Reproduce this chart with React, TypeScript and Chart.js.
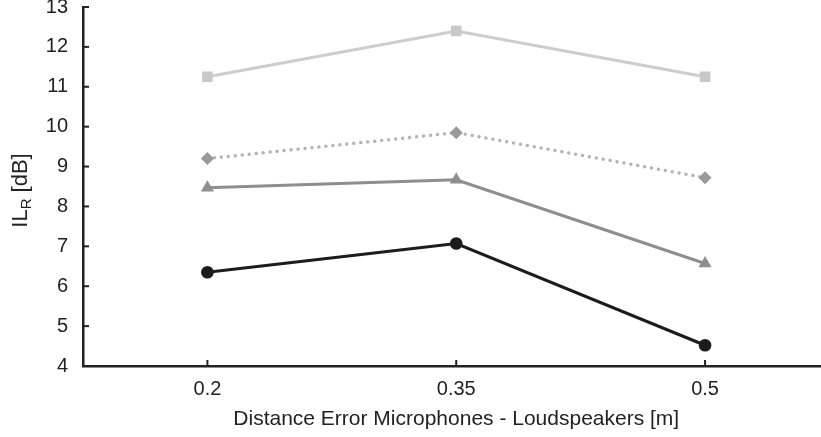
import { useEffect, useRef } from 'react';
import { Chart, registerables } from 'chart.js';

Chart.register(...registerables);

// ---- data ----
const xLabels = ['0.2', '0.35', '0.5'];
const seriesSquare = [11.25, 12.4, 11.25];
const seriesDiamond = [9.2, 9.85, 8.72];
const seriesTriangle = [8.47, 8.67, 6.57];
const seriesCircle = [6.35, 7.07, 4.52];
const yMin = 4;
const yMax = 13;
const xTitle = 'Distance Error Microphones - Loudspeakers [m]';
const yTitleMain = 'IL';
const yTitleSub = 'R';
const yTitleRest = ' [dB]';

const FONT = "'Liberation Sans', Arial, Helvetica, sans-serif";
const AXIS_COLOR = '#222222';
const TEXT_COLOR = '#222222';

const toPoints = (vals: number[]) => vals.map((y, i) => ({ x: i, y }));

const innerTicksAndTitles = {
  id: 'innerTicksAndTitles',
  afterDraw(chart: any) {
    const { ctx, chartArea, scales } = chart;
    ctx.save();
    ctx.strokeStyle = AXIS_COLOR;
    ctx.lineWidth = 2;
    const ys = scales.y;
    ys.ticks.forEach((_t: any, i: number) => {
      const py = ys.getPixelForTick(i);
      ctx.beginPath();
      ctx.moveTo(chartArea.left, py);
      ctx.lineTo(chartArea.left + 6, py);
      ctx.stroke();
    });
    const xs = scales.x;
    xs.ticks.forEach((_t: any, i: number) => {
      const px = xs.getPixelForTick(i);
      ctx.beginPath();
      ctx.moveTo(px, chartArea.bottom);
      ctx.lineTo(px, chartArea.bottom - 6);
      ctx.stroke();
    });

    // x-axis title, centred under the middle category
    ctx.fillStyle = TEXT_COLOR;
    ctx.font = `21px ${FONT}`;
    ctx.textAlign = 'center';
    ctx.textBaseline = 'middle';
    ctx.fillText(xTitle, xs.getPixelForValue(1), chartArea.bottom + 53);

    // rotated y-axis title with subscript
    const mainFont = `22px ${FONT}`;
    const subFont = `15px ${FONT}`;
    ctx.textAlign = 'left';
    ctx.font = mainFont;
    const w1 = ctx.measureText(yTitleMain).width;
    const w3 = ctx.measureText(yTitleRest).width;
    ctx.font = subFont;
    const w2 = ctx.measureText(yTitleSub).width;
    const total = w1 + w2 + w3;
    ctx.translate(21, (chartArea.top + chartArea.bottom) / 2 + 4);
    ctx.rotate(-Math.PI / 2);
    let x = -total / 2;
    ctx.font = mainFont;
    ctx.fillText(yTitleMain, x, 0);
    x += w1;
    ctx.font = subFont;
    ctx.fillText(yTitleSub, x, 6);
    x += w2;
    ctx.font = mainFont;
    ctx.fillText(yTitleRest, x, 0);
    ctx.restore();
  },
};

export default function App() {
  const ref = useRef<HTMLCanvasElement>(null);
  useEffect(() => {
    document.body.style.margin = '0';
    const chart = new Chart(ref.current as HTMLCanvasElement, {
      type: 'line',
      data: {
        datasets: [
          {
            data: toPoints(seriesSquare),
            borderColor: '#cdcdcd',
            backgroundColor: '#c8c8c8',
            borderWidth: 3,
            pointStyle: 'rect',
            pointRadius: 7.5,
            pointBackgroundColor: '#c8c8c8',
            pointBorderColor: '#c8c8c8',
            pointBorderWidth: 0,
          },
          {
            data: toPoints(seriesDiamond),
            borderColor: '#b4b4b4',
            backgroundColor: '#999999',
            borderWidth: 3.5,
            borderDash: [0.01, 7],
            borderCapStyle: 'round',
            pointStyle: 'rectRot',
            pointRadius: 6.5,
            pointBackgroundColor: '#999999',
            pointBorderColor: '#999999',
            pointBorderWidth: 0,
          },
          {
            data: toPoints(seriesTriangle),
            borderColor: '#8e8e8e',
            backgroundColor: '#8e8e8e',
            borderWidth: 3,
            pointStyle: 'triangle',
            pointRadius: 7.5,
            pointBackgroundColor: '#8e8e8e',
            pointBorderColor: '#8e8e8e',
            pointBorderWidth: 0,
          },
          {
            data: toPoints(seriesCircle),
            borderColor: '#1c1c1c',
            backgroundColor: '#1c1c1c',
            borderWidth: 3,
            pointStyle: 'circle',
            pointRadius: 6.3,
            pointBackgroundColor: '#1c1c1c',
            pointBorderColor: '#1c1c1c',
            pointBorderWidth: 0,
          },
        ] as any,
      },
      options: {
        animation: false,
        responsive: false,
        devicePixelRatio: 1,
        layout: { autoPadding: false, padding: { top: 7, right: 0, bottom: 0, left: 0 } },
        plugins: {
          legend: { display: false },
          tooltip: { enabled: false },
        },
        scales: {
          x: {
            type: 'linear',
            min: -0.5,
            max: 2.466,
            grid: { display: true, drawOnChartArea: false, drawTicks: false },
            border: { display: true, color: AXIS_COLOR, width: 2.5 },
            afterBuildTicks: (scale: any) => {
              scale.ticks = xLabels.map((_l, i) => ({ value: i }));
            },
            afterFit: (scale: any) => {
              scale.height = 71;
              scale.paddingLeft = 0;
              scale.paddingRight = 0;
            },
            ticks: {
              padding: 11,
              color: TEXT_COLOR,
              font: { family: FONT, size: 20 },
              callback: (v: any) => xLabels[v as number] ?? '',
            },
          },
          y: {
            type: 'linear',
            min: yMin,
            max: yMax,
            grid: { display: true, drawOnChartArea: false, drawTicks: false },
            border: { display: true, color: AXIS_COLOR, width: 2.5 },
            afterFit: (scale: any) => {
              scale.width = 83;
              scale.paddingTop = 0;
              scale.paddingBottom = 0;
            },
            ticks: {
              stepSize: 1,
              padding: 15,
              color: TEXT_COLOR,
              font: { family: FONT, size: 20 },
            },
          },
        },
      },
      plugins: [innerTicksAndTitles],
    });
    return () => chart.destroy();
  }, []);
  return (
    <div style={{ width: 821, height: 437 }}>
      <canvas ref={ref} width={821} height={437} style={{ display: 'block' }} />
    </div>
  );
}
